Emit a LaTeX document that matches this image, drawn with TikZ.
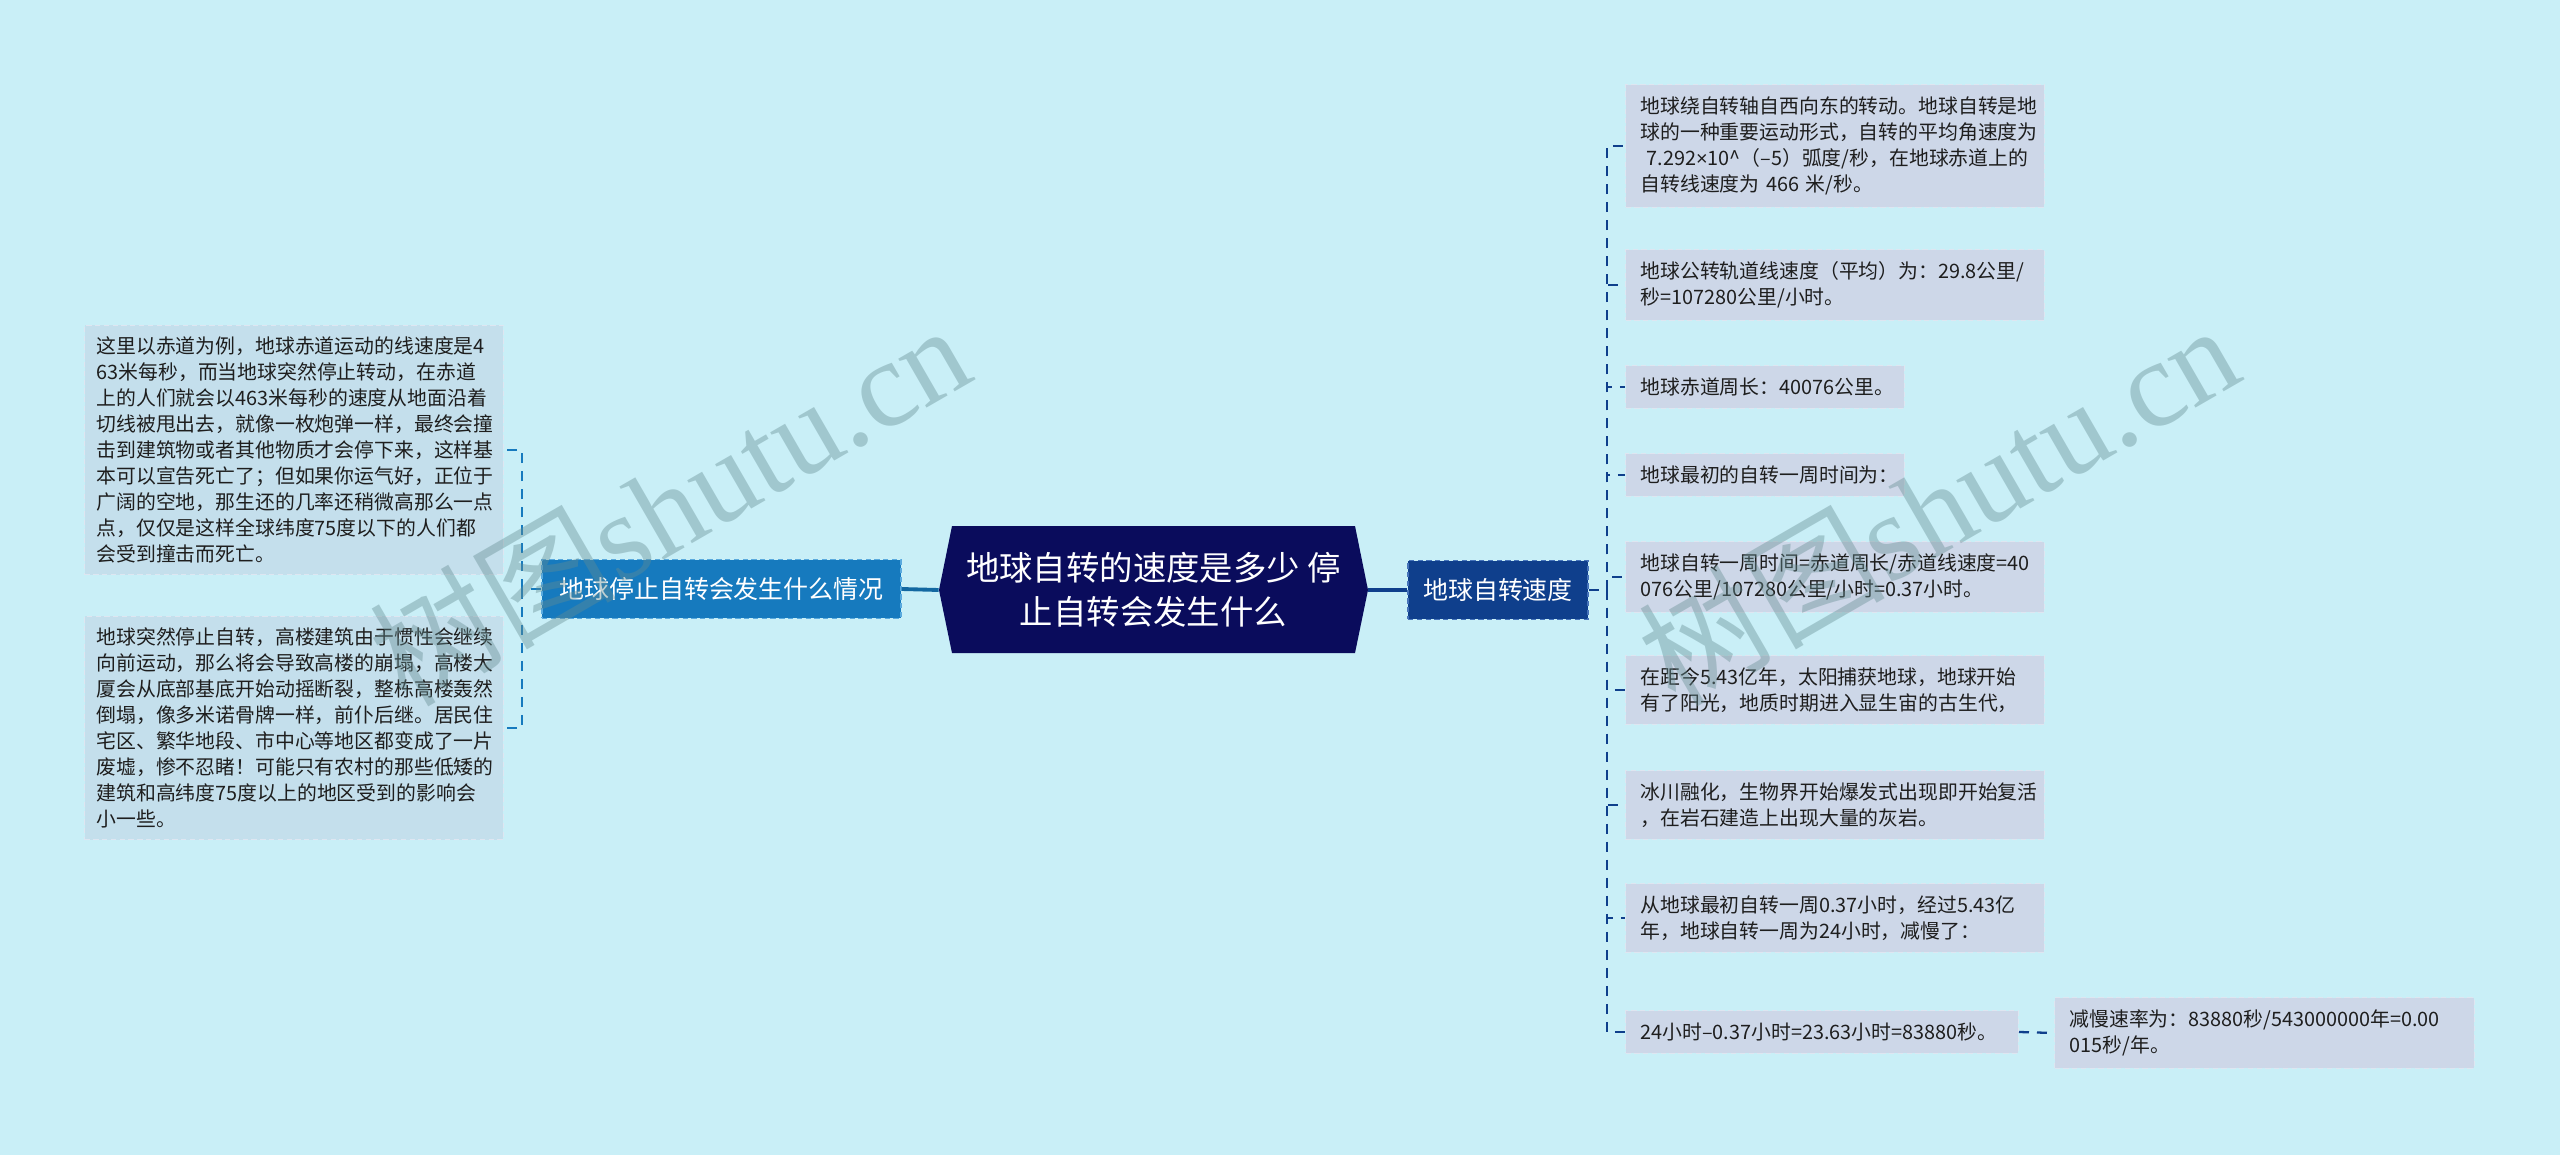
\documentclass[tikz,border=0pt]{standalone}
\usepackage{fontspec}
\setmainfont{Noto Sans CJK SC}
\newfontfamily\wmfont{Liberation Serif}
\newfontfamily\cjkfont{Noto Sans CJK SC}
\newfontfamily\latinfont{Liberation Sans}
\definecolor{mapbg}{RGB}{201,239,247}
\definecolor{rootblue}{RGB}{10,12,92}
\definecolor{leftblue}{RGB}{22,122,190}
\definecolor{leftedge}{RGB}{90,170,222}
\definecolor{rightblue}{RGB}{15,63,140}
\definecolor{rightedge}{RGB}{70,115,185}
\definecolor{leafrfill}{RGB}{205,215,232}
\definecolor{leaflfill}{RGB}{196,223,236}
\definecolor{leafedge}{RGB}{222,230,241}
\definecolor{leaftext}{RGB}{30,30,30}
\definecolor{wmgray}{RGB}{100,140,145}

\begin{document}
\begin{tikzpicture}[x=0.02cm, y=-0.02cm,
    leaf/.style={draw=leafedge, dash pattern=on 3pt off 2pt, line width=0.6pt, fill=leafrfill, text=leaftext, align=left, inner xsep=0.3cm, inner ysep=0.24cm, text width=7.78cm, font=\fontsize{11.3}{14.75}\selectfont},
    leafright/.style={leaf, anchor=west},
    leafleft/.style={leaf, anchor=east, fill=leaflfill, inner xsep=0.24cm, text width=7.9cm},
    branch/.style={line width=0.8pt, dash pattern=on 3pt off 2pt, text=white, minimum height=1.18cm, inner sep=0pt, font=\fontsize{14.2}{17}\selectfont},
    mainlink/.style={line width=2.2pt},
    treelink/.style={line width=1.3pt, dash pattern=on 0.2cm off 0.16cm},
    watermark/.style={text=wmgray, opacity=0.4, rotate=30, font=\wmfont\fontsize{70}{70}\selectfont}
  ]
    \fill[mapbg] (0,0) rectangle (2560,1155);
    \useasboundingbox (0,0) rectangle (2560,1155);

    \fill[rootblue] (939,590) -- (952,526) -- (1355,526) -- (1368,590) -- (1355,653) -- (952,653) -- cycle;
    \node[minimum width=8.58cm, minimum height=2.54cm, inner sep=0pt, align=center, text=white, font=\fontsize{19}{25}\selectfont] (root) at (1153.5,590) {地球自转的速度是多少 停\\止自转会发生什么};

    \node[branch, fill=leftblue, draw=leftedge, minimum width=7.18cm] (stop) at (721.5,589) {地球停止自转会发生什么情况};
    \node[branch, fill=rightblue, draw=rightedge, minimum width=3.6cm] (speed) at (1498,590) {地球自转速度};

    \node[leafleft] (l1) at (504,450) {这里以赤道为例，地球赤道运动的线速度是4\\63米每秒，而当地球突然停止转动，在赤道\\上的人们就会以463米每秒的速度从地面沿着\\切线被甩出去，就像一枚炮弹一样，最终会撞\\击到建筑物或者其他物质才会停下来，这样基\\本可以宣告死亡了；但如果你运气好，正位于\\广阔的空地，那生还的几率还稍微高那么一点\\点，仅仅是这样全球纬度75度以下的人们都\\会受到撞击而死亡。};
    \node[leafleft] (l2) at (504,728) {地球突然停止自转，高楼建筑由于惯性会继续\\向前运动，那么将会导致高楼的崩塌，高楼大\\厦会从底部基底开始动摇断裂，整栋高楼轰然\\倒塌，像多米诺骨牌一样，前仆后继。居民住\\宅区、繁华地段、市中心等地区都变成了一片\\废墟，惨不忍睹！可能只有农村的那些低矮的\\建筑和高纬度75度以上的地区受到的影响会\\小一些。};

    \node[leafright] (r1) at (1625,146) {地球绕自转轴自西向东的转动。地球自转是地\\球的一种重要运动形式，自转的平均角速度为\\\mbox{\hspace*{0.3em}7.292{\latinfont ×}10\textasciicircum（–5）弧度/秒，在地球赤道上的}\\自转线速度为 466 米/秒。};
    \node[leafright] (r2) at (1625,285) {地球公转轨道线速度（平均）为：29.8公里/\\秒=107280公里/小时。};
    \node[leafright, text width=4.98cm] (r3) at (1625,387) {地球赤道周长：40076公里。};
    \node[leafright, text width=4.98cm] (r4) at (1625,475) {地球最初的自转一周时间为：};
    \node[leafright] (r5) at (1625,577) {地球自转一周时间=赤道周长/赤道线速度=40\\076公里/107280公里/小时=0.37小时。};
    \node[leafright] (r6) at (1625,690) {在距今5.43亿年，太阳捕获地球，地球开始\\有了阳光，地质时期进入显生宙的古生代，};
    \node[leafright] (r7) at (1625,805) {冰川融化，生物界开始爆发式出现即开始复活\\，在岩石建造上出现大量的灰岩。};
    \node[leafright] (r8) at (1625,918) {从地球最初自转一周0.37小时，经过5.43亿\\年，地球自转一周为24小时，减慢了：};
    \node[leafright, text width=7.26cm] (r9) at (1625,1032) {24小时–0.37小时=23.63小时=83880秒。};
    \node[leafright, text width=7.8cm] (r10) at (2054,1033) {减慢速率为：83880秒/543000000年=0.00\\015秒/年。};

    \coordinate (lj) at (522,589);
    \coordinate (rj) at (1607,590);

    \draw[mainlink, leftblue!85!black] (root.west) -- (stop.east);
    \draw[mainlink, rightblue] (root.east) -- (speed.west);

    \draw[treelink, leftblue] (stop.west) -- (lj);
    \draw[treelink, leftblue] (lj) |- (l1.east);
    \draw[treelink, leftblue] (lj) |- (l2.east);

    \draw[treelink, rightblue] (speed.east) -- (rj);
    \foreach \k in {1,...,9} {
      \draw[treelink, rightblue] (rj) |- (r\k.west);
    }
    \draw[treelink, rightblue] (r9.east) -- (r10.west);

    \node[watermark] (wm1) at (669,503) {{\cjkfont 树图}shutu.cn};
    \node[watermark] (wm2) at (1938,503) {{\cjkfont 树图}shutu.cn};
  \end{tikzpicture}
\end{document}
